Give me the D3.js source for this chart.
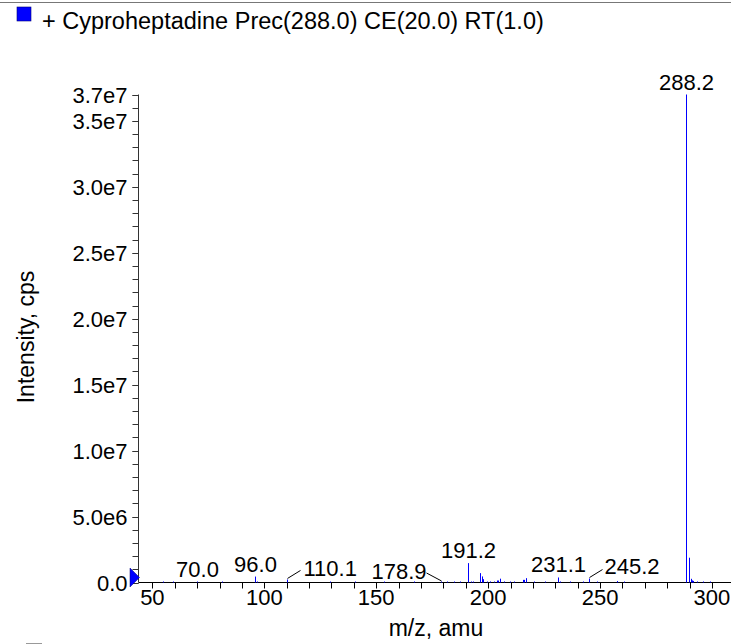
<!DOCTYPE html>
<html>
<head>
<meta charset="utf-8">
<script src="https://cdn.jsdelivr.net/npm/d3@7/dist/d3.min.js"></script>
<style>
  html, body { margin: 0; padding: 0; background: #fff; }
  svg { display: block; font-family: "Liberation Sans", Arial, Helvetica, sans-serif; }
</style>
</head>
<body>
<svg id="chart" width="731" height="644"></svg>
<script>
// ---------------- data ----------------
const titleText = "+ Cyproheptadine Prec(288.0) CE(20.0) RT(1.0)";
const xLabel = "m/z, amu";
const yLabel = "Intensity, cps";

// peak m/z values and intensities (cps)
const peakMz = [
  54.9, 59.4, 70.0, 80.9, 96.0, 96.6, 110.1, 129.5, 140.7, 153.3, 166.7, 178.9,
  181.6, 184.6, 187.6, 191.2, 192.5, 193.2, 196.2, 197.1, 197.5, 199.5, 201.0,
  202.4, 203.8, 204.4, 205.1, 206.9, 209.9, 211.4, 215.5, 216.1, 217.0, 220.3,
  225.5, 231.1, 232.2, 236.7, 242.6, 245.2, 248.6, 257.5, 260.5, 288.2, 289.9,
  290.5, 291.0, 291.7, 293.2, 296.2, 299.2
];
const peakIntensity = [
  3e4, 4e4, 4e4, 3e4, 4.5e5, 6e4, 2.3e5, 4e4, 3e4, 3e4, 8e4, 4e4,
  4e4, 4e4, 4e4, 1.47e6, 5e4, 5e4, 7.1e5, 4.6e5, 2.5e5, 6e4, 8e4,
  6e4, 1.5e5, 1.5e5, 2.9e5, 8e4, 5e4, 4e4, 2.0e5, 2.0e5, 3.3e5, 4e4,
  4e4, 3.8e5, 6e4, 4e4, 5e4, 3.0e5, 4e4, 1.1e5, 4e4, 3.7e7, 1.88e6,
  2.8e5, 1.6e5, 1.2e5, 8e4, 5e4, 4e4
];

// annotated peaks
const labelMz = [70.0, 96.0, 110.1, 178.9, 191.2, 231.1, 245.2, 288.2];
const labelText = ["70.0", "96.0", "110.1", "178.9", "191.2", "231.1", "245.2", "288.2"];

// axis ticks
const xMajorTicks = [50, 100, 150, 200, 250, 300];
const xMinorTicks = d3.range(50, 301, 10);
const yMajorTicks = [0, 5e6, 1e7, 1.5e7, 2e7, 2.5e7, 3e7, 3.5e7, 3.7e7];
const yMajorLabels = ["0.0", "5.0e6", "1.0e7", "1.5e7", "2.0e7", "2.5e7", "3.0e7", "3.5e7", "3.7e7"];
const yMinorTicks = d3.range(0, 3.7e7 + 1, 1e6);

// ---------------- layout (not data) ----------------
const labelLayout = {
  "110.1": {side: "right", dx: 16, dy: -3, lx: 13, ly: -8},
  "178.9": {side: "left",  dx: -15, dy: -3, lx: -15, ly: -8},
  "245.2": {side: "right", dx: 15, dy: -5, lx: 13, ly: -8}
};

const svg = d3.select("#chart");
const W = 731, H = 644;
const left = 138.5, bottom = 582.5, right = 731;

const x = d3.scaleLinear().domain([43.8, 308.5]).range([left, right]);
const y = d3.scaleLinear().domain([0, 3.7e7]).range([bottom, 94.5]);

// top separator line
svg.append("line").attr("x1", 0).attr("x2", W).attr("y1", 2.5).attr("y2", 2.5)
  .attr("stroke", "#777").attr("stroke-width", 1);
// bottom fragment of next panel's legend square
svg.append("line").attr("x1", 26).attr("x2", 42).attr("y1", 643.5).attr("y2", 643.5)
  .attr("stroke", "#999").attr("stroke-width", 1);

// title legend
svg.append("rect").attr("x", 17).attr("y", 7).attr("width", 14).attr("height", 14)
  .attr("fill", "#0000ff").attr("stroke", "#00007a").attr("stroke-width", 0.6);
svg.append("text").attr("x", 42).attr("y", 29).attr("font-size", 23.5).attr("fill", "#000")
  .text(titleText);

// axes
const gx = svg.append("g");
gx.append("line").attr("x1", left).attr("x2", right).attr("y1", bottom).attr("y2", bottom)
  .attr("stroke", "#000");
gx.selectAll("line.minor").data(xMinorTicks).enter().append("line")
  .attr("class", "minor")
  .attr("x1", d => Math.round(x(d)) + 0.5).attr("x2", d => Math.round(x(d)) + 0.5)
  .attr("y1", bottom).attr("y2", bottom + 6).attr("stroke", "#000");
gx.selectAll("text").data(xMajorTicks).enter().append("text")
  .attr("x", d => x(d)).attr("y", 605).attr("text-anchor", "middle")
  .attr("font-size", 22).text(d => d);

const gy = svg.append("g");
gy.append("line").attr("x1", left).attr("x2", left).attr("y1", y(3.7e7)).attr("y2", bottom)
  .attr("stroke", "#333");
gy.selectAll("line.minor").data(yMinorTicks).enter().append("line")
  .attr("class", "minor")
  .attr("x1", left - 6).attr("x2", left)
  .attr("y1", d => Math.round(y(d)) + 0.5).attr("y2", d => Math.round(y(d)) + 0.5)
  .attr("stroke", "#333");
gy.selectAll("line.major").data(yMajorTicks).enter().append("line")
  .attr("class", "major")
  .attr("x1", left - 6).attr("x2", left)
  .attr("y1", d => Math.round(y(d)) + 0.5).attr("y2", d => Math.round(y(d)) + 0.5)
  .attr("stroke", "#333");
gy.selectAll("text").data(yMajorTicks).enter().append("text")
  .attr("x", 127.5).attr("y", d => y(d) + 8).attr("text-anchor", "end")
  .attr("font-size", 22).text((d, i) => yMajorLabels[i]);

// axis titles
svg.append("text").attr("x", 436).attr("y", 636).attr("text-anchor", "middle")
  .attr("font-size", 23).text(xLabel);
svg.append("text").attr("transform", "translate(34,337) rotate(-90)")
  .attr("text-anchor", "middle").attr("font-size", 23).text(yLabel);

// peaks
const peaks = peakMz.map((m, i) => ({mz: m, v: peakIntensity[i]}));
svg.append("g").selectAll("line").data(peaks).enter().append("line")
  .attr("x1", d => Math.round(x(d.mz)) + 0.5).attr("x2", d => Math.round(x(d.mz)) + 0.5)
  .attr("y1", bottom).attr("y2", d => Math.min(bottom - 1, y(d.v)))
  .attr("stroke", "#0000ff").attr("stroke-width", 1);

// labels
const lab = svg.append("g");
labelMz.forEach((m, i) => {
  const pk = peaks.find(p => Math.abs(p.mz - m) < 0.05);
  const px = Math.round(x(m)) + 0.5;
  const py = y(pk ? pk.v : 0);
  const t = labelText[i];
  const L = labelLayout[t];
  if (L) {
    lab.append("line").attr("x1", px).attr("y1", py - 1)
      .attr("x2", px + L.lx).attr("y2", py - 1 + L.ly)
      .attr("stroke", "#000").attr("stroke-width", 1);
    lab.append("text").attr("x", px + L.dx).attr("y", py + L.dy)
      .attr("text-anchor", L.side === "right" ? "start" : "end")
      .attr("font-size", 22).text(t);
  } else {
    lab.append("text").attr("x", px).attr("y", Math.min(py, bottom - 1) - 5)
      .attr("text-anchor", "middle").attr("font-size", 22).text(t);
  }
});

// precursor marker triangle
svg.append("path")
  .attr("d", d3.line()([[130, 568], [139.5, 577.5], [130, 587]]) + "Z")
  .attr("fill", "#0000ff").attr("stroke", "#00007a").attr("stroke-width", 0.5);
</script>
</body>
</html>
